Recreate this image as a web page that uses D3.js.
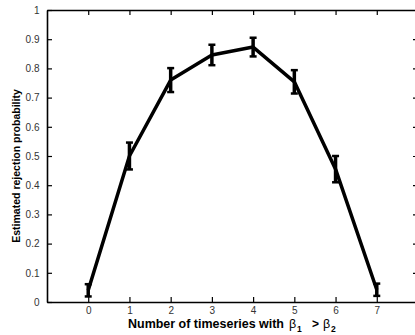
<!DOCTYPE html>
<html>
  <head>
    <meta charset="utf-8">
    <title>Estimated rejection probability</title>
    <script src="https://d3js.org/d3.v7.min.js"></script>
    <style>
      body { margin: 0; background: #fff; }
      svg { display: block; font-family: "Liberation Sans", Arial, sans-serif; }
    </style>
  </head>
  <body>
    <div id="chart"></div>
    <script>
      // number of timeseries with beta1 > beta2
      var counts = [0, 1, 2, 3, 4, 5, 6, 7];
      var rejectProb = [0.04, 0.50, 0.76, 0.846, 0.873, 0.754, 0.455, 0.042];
      var errHalf = [0.021, 0.046, 0.041, 0.035, 0.032, 0.040, 0.045, 0.021];
      var xTicks = [0, 1, 2, 3, 4, 5, 6, 7];
      var yTicks = [0, 0.1, 0.2, 0.3, 0.4, 0.5, 0.6, 0.7, 0.8, 0.9, 1];

      var width = 415, height = 335;
      var margin = {top: 10, left: 47, bottom: 33};
      var plotRight = 418;

      var x = d3.scaleLinear().domain([-1, 8]).range([margin.left, plotRight]);
      var y = d3.scaleLinear().domain([0, 1]).range([height - margin.bottom, margin.top]);

      var svg = d3.select("#chart").append("svg")
                  .attr("width", width)
                  .attr("height", height);

      var rows = counts.map(function(c, i) {
        return {x: c, y: rejectProb[i], e: errHalf[i]};
      });

      // axes, ticks pointing inward like matlab
      var axBottom = svg.append("g")
        .attr("transform", "translate(0," + y(0) + ")")
        .call(d3.axisBottom(x).tickValues(xTicks).tickSizeInner(-5).tickSizeOuter(0).tickPadding(5));
      var axTop = svg.append("g")
        .attr("transform", "translate(0," + y(1) + ")")
        .call(d3.axisTop(x).tickValues(xTicks).tickSizeInner(-5).tickSizeOuter(0).tickFormat(""));
      var axLeft = svg.append("g")
        .attr("transform", "translate(" + x(-1) + ",0)")
        .call(d3.axisLeft(y).tickValues(yTicks).tickSizeInner(-5).tickSizeOuter(0).tickPadding(7.5)
              .tickFormat(function(d) { return d === 0 || d === 1 ? d : d3.format(".1f")(d); }));
      var axRight = svg.append("g")
        .attr("transform", "translate(" + x(8) + ",0)")
        .call(d3.axisRight(y).tickValues(yTicks).tickSizeInner(-5).tickSizeOuter(0).tickFormat(""));

      [axBottom, axTop, axLeft, axRight].forEach(function(g) {
        g.select(".domain").attr("stroke", "#000").attr("stroke-width", 1.6);
        g.selectAll(".tick line").attr("stroke", "#000").attr("stroke-width", 1.2);
        g.selectAll(".tick text").attr("fill", "#333").style("font-size", "10px");
      });

      // line through the estimates
      var line = d3.line()
        .x(function(d) { return x(d.x); })
        .y(function(d) { return y(d.y); });

      svg.append("path")
        .datum(rows)
        .attr("d", line)
        .attr("fill", "none")
        .attr("stroke", "#000")
        .attr("stroke-width", 3.5)
        .attr("stroke-linejoin", "round");

      // error bars
      var bars = svg.selectAll("g.err")
        .data(rows)
        .enter()
        .append("g")
        .attr("class", "err")
        .attr("stroke", "#000");

      bars.append("line")
        .attr("x1", function(d) { return x(d.x); })
        .attr("x2", function(d) { return x(d.x); })
        .attr("y1", function(d) { return y(d.y - d.e); })
        .attr("y2", function(d) { return y(d.y + d.e); })
        .attr("stroke-width", 3.5);
      bars.append("line")
        .attr("x1", function(d) { return x(d.x) - 3.5; })
        .attr("x2", function(d) { return x(d.x) + 3.5; })
        .attr("y1", function(d) { return y(d.y - d.e); })
        .attr("y2", function(d) { return y(d.y - d.e); })
        .attr("stroke-width", 2.5);
      bars.append("line")
        .attr("x1", function(d) { return x(d.x) - 3.5; })
        .attr("x2", function(d) { return x(d.x) + 3.5; })
        .attr("y1", function(d) { return y(d.y + d.e); })
        .attr("y2", function(d) { return y(d.y + d.e); })
        .attr("stroke-width", 2.5);

      // axis titles
      svg.append("text")
        .attr("transform", "translate(20,166) rotate(-90)")
        .attr("text-anchor", "middle")
        .style("font-size", "10.5px")
        .style("font-weight", "bold")
        .text("Estimated rejection probability");

      // x title is laid out piece by piece: bold words, then beta_1 > beta_2
      var xt = svg.append("g").style("font-weight", "bold");
      xt.append("text")
        .attr("x", 128).attr("y", 328)
        .attr("textLength", 156).attr("lengthAdjust", "spacingAndGlyphs")
        .style("font-size", "12.5px")
        .text("Number of timeseries with");
      xt.append("text").attr("x", 289).attr("y", 328)
        .style("font-weight", "normal").style("font-size", "12.5px").text("β");
      xt.append("text").attr("x", 297).attr("y", 332)
        .style("font-size", "8.5px").text("1");
      xt.append("text").attr("x", 312).attr("y", 328)
        .style("font-size", "12px").text(">");
      xt.append("text").attr("x", 323).attr("y", 328)
        .style("font-weight", "normal").style("font-size", "12.5px").text("β");
      xt.append("text").attr("x", 331).attr("y", 332)
        .style("font-size", "8.5px").text("2");
    </script>
  </body>
</html>
